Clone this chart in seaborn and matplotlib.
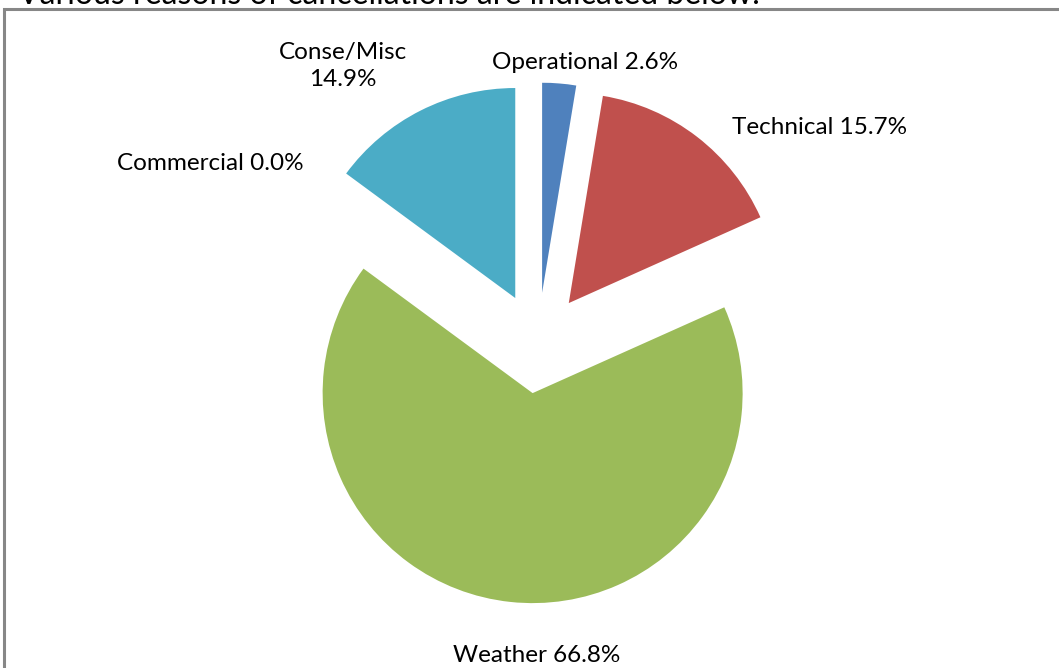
import matplotlib
matplotlib.use("Agg")
import matplotlib.pyplot as plt
import seaborn as sns
from matplotlib.patches import Rectangle

# ---- data ----
categories = ["Operational", "Technical", "Weather", "Commercial", "Conse/Misc"]
shares = [2.6, 15.7, 66.8, 0.0, 14.9]
label_texts = ["Operational 2.6%", "Technical 15.7%", "Weather 66.8%",
               "Commercial 0.0%", "Conse/Misc\n14.9%"]
colors = ["#4F81BD", "#C0504D", "#9BBB59", "#8064A2", "#4BACC6"]
title = "Various reasons of cancellations are indicated below:"

# ---- layout (pie units, radius = 1) ----
label_xy = [(0.224, 1.338), (1.343, 1.024), (-0.005, -1.486),
            (-1.562, 0.857), (-0.929, 1.319)]

sns.set_theme(style="white")
plt.rcParams["font.family"] = ["Lato", "DejaVu Sans"]

W, H = 1059, 668
fig = plt.figure(figsize=(W / 100, H / 100), dpi=100)
fig.patch.set_facecolor("white")

R = 210.0
cx, cy = 538.0, 343.0
ax = fig.add_axes([0, 0, 1, 1])
wedges, texts = ax.pie(shares, labels=label_texts, colors=colors,
                       startangle=90, counterclock=False,
                       explode=[0.24] * len(shares), radius=1.0,
                       wedgeprops=dict(linewidth=0),
                       textprops=dict(fontsize=17.5, color="black"))
for t, (lx, ly) in zip(texts, label_xy):
    t.set_position((lx, ly))
    t.set_ha("center")
    t.set_va("center")
    t.set_multialignment("center")
    t.set_linespacing(1.3)

ax.set_xlim(-cx / R, (W - cx) / R)
ax.set_ylim(-(H - cy) / R, cy / R)
ax.set_aspect("auto")
ax.axis("off")

# chart frame (extends past right and bottom edges)
fig.patches.append(Rectangle((4 / W, -0.05), 1.2, 1 - 8.5 / H + 0.05,
                             transform=fig.transFigure, fill=False,
                             edgecolor="#878787", linewidth=2.2))

# cut-off heading above the frame
fig.text(18 / W, 1 - 3.5 / H, title, ha="left", va="baseline",
         fontsize=23, color="black")

fig.savefig("out.png", dpi=100, facecolor="white")
